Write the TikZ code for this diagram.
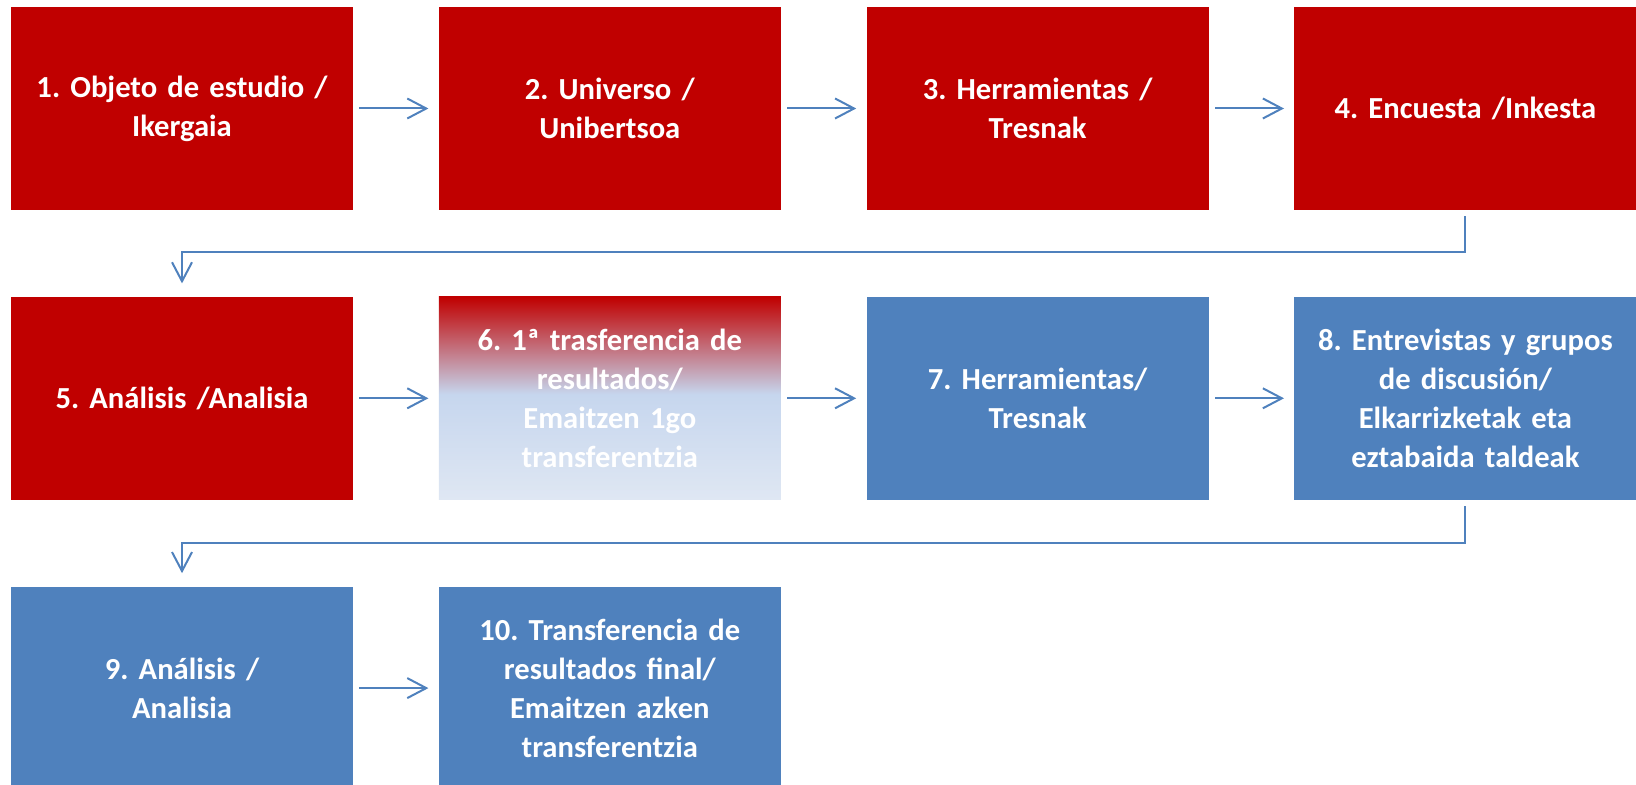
\documentclass[tikz,border=0pt]{standalone}
\usepackage{fontspec}
\setmainfont{Carlito}
\frenchspacing
\usetikzlibrary{positioning,arrows.meta}
\definecolor{boxred}{HTML}{C00000}
\definecolor{boxblue}{HTML}{4F81BD}
\definecolor{fadeblue}{HTML}{C6D6EE}
\definecolor{paleblue}{HTML}{DFE7F3}
\pgfdeclareverticalshading{redfade}{100bp}{color(0bp)=(paleblue); color(25bp)=(paleblue); color(51bp)=(fadeblue); color(75bp)=(boxred); color(100bp)=(boxred)}

\begin{document}
\begin{tikzpicture}[x=0.5pt,y=-0.5pt,node distance=43pt and 42.5pt]

		\tikzstyle{stage}=[rectangle,minimum width=171pt,minimum height=101.5pt,inner sep=0pt,text width=168pt,align=center,text=white,font=\bfseries\fontsize{15.3}{19.5}\selectfont]
		\tikzstyle{red stage}=[stage,fill=boxred]
		\tikzstyle{blue stage}=[stage,fill=boxblue]
		\tikzstyle{fade stage}=[stage,shade,shading=redfade]
		\tikzstyle{flow}=[draw=boxblue,line width=1pt,-{Straight Barb[length=9.5pt,width=10pt]},shorten <=3pt,shorten >=5pt]

		\useasboundingbox (0,0) rectangle (1636,785);

		% first row
		\node[red stage] (b1) at (182,108.5) {1. Objeto de estudio /\\Ikergaia};
		\node[red stage] (b2) [right=of b1] {2. Universo /\\Unibertsoa};
		\node[red stage] (b3) [right=of b2] {3. Herramientas /\\Tresnak};
		\node[red stage] (b4) [right=of b3] {4. Encuesta /Inkesta};

		% second row
		\node[red stage] (b5) [below=of b1] {5. Análisis /Analisia};
		\node[fade stage] (b6) [right=of b5] {6. 1ª trasferencia de\\resultados/\\Emaitzen 1go\\transferentzia};
		\node[blue stage] (b7) [right=of b6] {7. Herramientas/\\Tresnak};
		\node[blue stage] (b8) [right=of b7] {8. Entrevistas y grupos\\de discusión/\\Elkarrizketak eta\\eztabaida taldeak};

		% third row
		\node[blue stage] (b9) [below=of b5] {9. Análisis /\\Analisia};
		\node[blue stage] (b10) [right=of b9] {10. Transferencia de\\resultados final/\\Emaitzen azken\\transferentzia};

		\path (b1) edge[flow] (b2)
					(b2) edge[flow] (b3)
					(b3) edge[flow] (b4)
					(b5) edge[flow] (b6)
					(b6) edge[flow] (b7)
					(b7) edge[flow] (b8)
					(b9) edge[flow] (b10);

		\draw[flow,shorten >=6.5pt] (b4.south) -- ++(0,42) -| (b5.north);
		\draw[flow,shorten >=6.5pt] (b8.south) -- ++(0,43) -| (b9.north);

	\end{tikzpicture}
\end{document}
